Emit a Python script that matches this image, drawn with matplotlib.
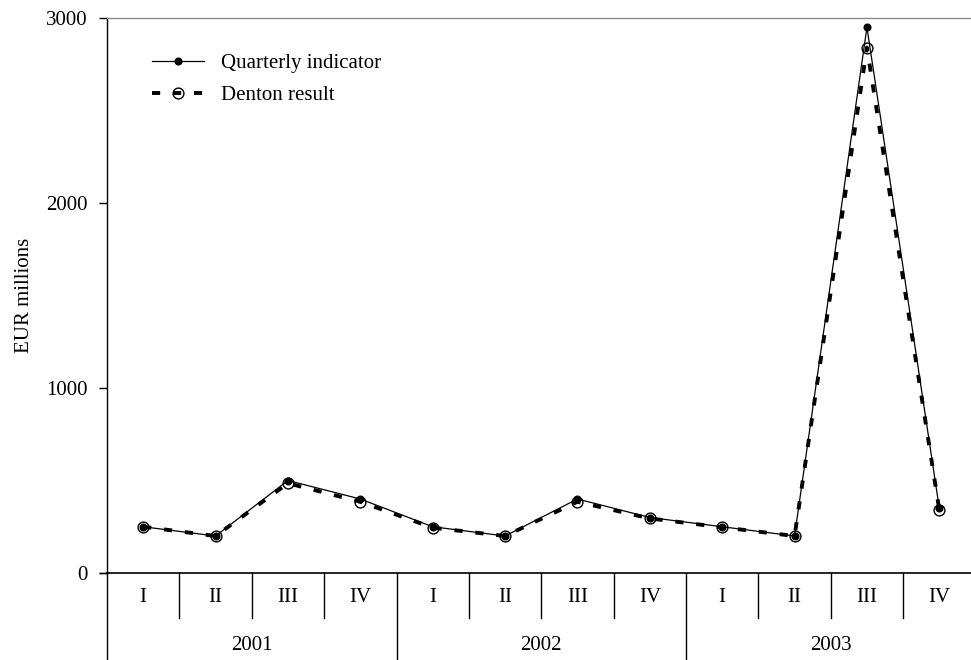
import matplotlib
matplotlib.use("Agg")
import matplotlib.pyplot as plt
from matplotlib.lines import Line2D
import matplotlib.transforms as mtransforms

years = ["2001", "2002", "2003"]
quarters = ["I", "II", "III", "IV"]
indicator = [250, 200, 500, 400, 250, 200, 400, 300, 250, 200, 2950, 350]
denton = [250, 200, 485, 385, 245, 200, 385, 295, 247, 200, 2840, 340]
yticks = [0, 1000, 2000, 3000]

plt.rcParams['font.family'] = ['Liberation Serif', 'DejaVu Serif']
FS = 15

fig = plt.figure(figsize=(9.71, 6.60), dpi=100)
ax = fig.add_axes([107/971, 1-573/660, (975.5-107)/971, (573-18)/660])

n = len(years) * len(quarters)
x = list(range(n))

DASH = (0, (2.1, 3.3))
ax.plot(x, denton, color='black', lw=2.8, ls=DASH,
        marker='o', ms=7.8, mfc='none', mec='black', mew=1.0,
        label='Denton result', zorder=2)
ax.plot(x, indicator, color='black', lw=0.9, ls='-',
        marker='o', ms=4.8, mfc='black', mec='black',
        label='Quarterly indicator', zorder=3)

ax.set_xlim(-0.5, n - 0.5)
ax.set_ylim(0, 3000)
ax.set_yticks(yticks)
ax.set_yticklabels([str(v) for v in yticks], fontsize=FS)
ax.tick_params(axis='y', direction='out', length=5.8, width=1.0, pad=8)
ax.set_xticks([])
ax.set_ylabel("EUR millions", fontsize=FS, labelpad=9)

ax.spines['right'].set_visible(False)
ax.spines['top'].set_color('#8c8c8c')
ax.spines['top'].set_linewidth(1.0)
ax.spines['left'].set_linewidth(1.0)
ax.spines['bottom'].set_linewidth(1.2)

# hierarchical x axis
trans = mtransforms.blended_transform_factory(ax.transData, ax.transAxes)
short = -45/555
long_ = -87/555
ax.plot([-0.5, -0.5], [0, long_], transform=trans, color='black', lw=1.0, clip_on=False)
ax.plot([-0.6, -0.5], [0, 0], transform=trans, color='black', lw=1.0, clip_on=False)
for b in range(1, n + 1):
    xb = b - 0.5
    depth = long_ if b % len(quarters) == 0 else short
    ax.plot([xb, xb], [0, depth], transform=trans, color='black', lw=1.0, clip_on=False)
for i in range(n):
    ax.text(i, -25/555, quarters[i % len(quarters)], transform=trans,
            ha='center', va='center', fontsize=FS)
for j, yr in enumerate(years):
    xc = j * len(quarters) + (len(quarters) - 1) / 2
    ax.text(xc, -73/555, yr, transform=trans, ha='center', va='center', fontsize=FS)

handles = [
    Line2D([], [], color='black', lw=0.9, marker='o', ms=4.8, mfc='black'),
    Line2D([], [], color='black', lw=2.8, ls=DASH, marker='o', ms=7.8,
           mfc='none', mec='black', mew=1.0),
]
ax.legend(handles, ['Quarterly indicator', 'Denton result'], loc='upper left',
          bbox_to_anchor=(0.03, 0.97), frameon=False, fontsize=FS,
          handlelength=2.5, handletextpad=0.8, labelspacing=0.6)

fig.savefig("out.png", dpi=100)
